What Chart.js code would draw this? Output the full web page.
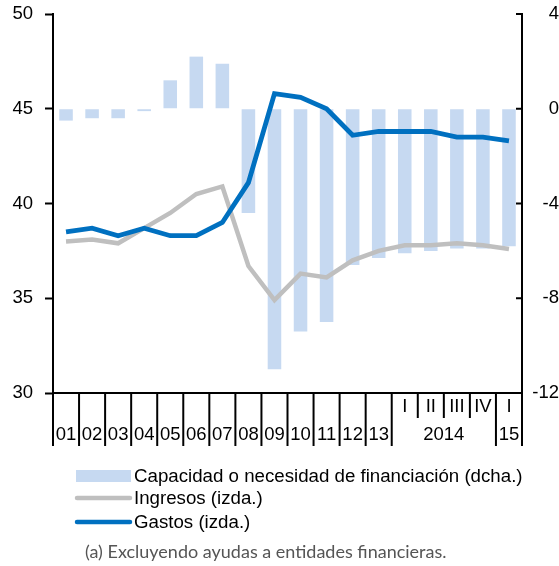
<!DOCTYPE html>
<html>
<head>
<meta charset="utf-8">
<script src="https://cdn.jsdelivr.net/npm/chart.js@4/dist/chart.umd.min.js"></script>
<style>
  body { margin: 0; background: #fff; }
  canvas { display: block; }
</style>
</head>
<body>
<canvas id="chart" width="559" height="566"></canvas>
<script>
const categories = ["01", "02", "03", "04", "05", "06", "07", "08", "09", "10", "11", "12", "13",
  "2014 I", "2014 II", "2014 III", "2014 IV", "2015 I"];
const yearLabels = ["01", "02", "03", "04", "05", "06", "07", "08", "09", "10", "11", "12", "13"];
const quarterLabels = ["I", "II", "III", "IV", "I"];
const groups = [
  { label: "2014", from: 13, to: 16 },
  { label: "15", from: 17, to: 17 },
];

const capacidad = [-0.5, -0.4, -0.4, -0.1, 1.2, 2.2, 1.9, -4.4, -11.0, -9.4, -9.0, -6.6, -6.3, -6.1, -6.0, -5.9, -5.9, -5.8];
const ingresos = [38.0, 38.1, 37.9, 38.7, 39.5, 40.5, 40.9, 36.7, 34.9, 36.3, 36.1, 37.0, 37.5, 37.8, 37.8, 37.9, 37.8, 37.6];
const gastos = [38.5, 38.7, 38.3, 38.7, 38.3, 38.3, 39.0, 41.1, 45.8, 45.6, 45.0, 43.6, 43.8, 43.8, 43.8, 43.5, 43.5, 43.3];

const leftTicks = [30, 35, 40, 45, 50];
const rightTicks = [-12, -8, -4, 0, 4];

const footnote = "(a) Excluyendo ayudas a entidades financieras.";

const FONT = "'Liberation Sans', Arial, sans-serif";
Chart.defaults.font.family = FONT;
Chart.defaults.font.size = 18.5;
Chart.defaults.color = "#000";

const ctx = document.getElementById("chart");

// x axis labels, tick lines, inner ticks of the right axis, legend and note
const decorations = {
  id: "decorations",
  afterDraw(chart) {
    const c = chart.ctx;
    const x = chart.scales.x;
    const y2 = chart.scales.y2;
    const area = chart.chartArea;
    const base = area.bottom;
    const half = (x.getPixelForValue(1) - x.getPixelForValue(0)) / 2;
    const nYears = yearLabels.length;

    c.save();
    c.strokeStyle = "#000";
    c.lineWidth = 2;

    // category boundaries
    for (let i = 0; i <= categories.length; i++) {
      const px = i < categories.length ? x.getPixelForValue(i) - half : x.getPixelForValue(i - 1) + half;
      const inGroup = groups.some(g => i > g.from && i <= g.to);
      c.beginPath();
      c.moveTo(px, base);
      c.lineTo(px, base + (inGroup ? 25 : 53));
      c.stroke();
    }

    // right axis ticks point inward
    rightTicks.forEach(v => {
      const py = y2.getPixelForValue(v);
      c.beginPath();
      c.moveTo(area.right - 6, py);
      c.lineTo(area.right, py);
      c.stroke();
    });

    c.fillStyle = "#000";
    c.font = "18.5px " + FONT;
    c.textAlign = "center";
    c.textBaseline = "middle";
    yearLabels.forEach((l, i) => c.fillText(l, x.getPixelForValue(i), base + 42));
    quarterLabels.forEach((l, i) => c.fillText(l, x.getPixelForValue(nYears + i), base + 14));
    groups.forEach(g => {
      const mid = (x.getPixelForValue(g.from) + x.getPixelForValue(g.to)) / 2;
      c.fillText(g.label, mid, base + 42);
    });

    // legend
    const rows = [476, 498, 522];
    c.textAlign = "left";
    c.font = "18.7px " + FONT;
    chart.data.datasets.forEach((ds, k) => {
      const ry = rows[k];
      if (ds.type === "bar") {
        c.fillStyle = ds.backgroundColor;
        c.fillRect(76, ry - 6, 55, 12);
      } else {
        c.strokeStyle = ds.borderColor;
        c.lineWidth = 4.5;
        c.lineCap = "round";
        c.beginPath();
        c.moveTo(77, ry);
        c.lineTo(130, ry);
        c.stroke();
      }
      c.fillStyle = "#000";
      c.fillText(ds.label, 134, ry + 1);
    });

    // note
    c.fillStyle = "#555";
    c.font = "18px Lato, 'Open Sans', sans-serif";
    c.fillText(footnote, 85, 552);
    c.restore();
  },
};

// keep the y scales from adding label room above the plot
const noPad = (scale, width) => {
  scale.width = width;
  scale.paddingTop = 0;
  scale.paddingBottom = 0;
};

new Chart(ctx, {
  data: {
    labels: categories,
    datasets: [
      {
        type: "bar",
        label: "Capacidad o necesidad de financiación (dcha.)",
        data: capacidad,
        yAxisID: "y2",
        backgroundColor: "#c6d9f1",
        barPercentage: 0.52,
        categoryPercentage: 1,
        order: 3,
      },
      {
        type: "line",
        label: "Ingresos (izda.)",
        data: ingresos,
        yAxisID: "y",
        borderColor: "#bfbfbf",
        borderWidth: 4.5,
        pointRadius: 0,
        tension: 0,
        order: 2,
      },
      {
        type: "line",
        label: "Gastos (izda.)",
        data: gastos,
        yAxisID: "y",
        borderColor: "#0070c0",
        borderWidth: 4.8,
        pointRadius: 0,
        tension: 0,
        order: 1,
      },
    ],
  },
  options: {
    responsive: false,
    animation: false,
    layout: { padding: { top: 14, left: 0, right: 0, bottom: 0 } },
    plugins: {
      legend: { display: false },
      tooltip: { enabled: false },
    },
    scales: {
      x: {
        grid: { display: false },
        ticks: { display: false },
        border: { display: true, color: "#000", width: 2 },
        afterFit: (scale) => { scale.height = 173; },
      },
      y: {
        position: "left",
        min: leftTicks[0],
        max: leftTicks[leftTicks.length - 1],
        ticks: { stepSize: 5, padding: 12, color: "#000" },
        grid: { drawOnChartArea: false, tickLength: 8, tickWidth: 2, tickColor: "#000" },
        border: { color: "#000", width: 2 },
        afterFit: (scale) => noPad(scale, 53),
      },
      y2: {
        position: "right",
        min: rightTicks[0],
        max: rightTicks[rightTicks.length - 1],
        ticks: { stepSize: 4, padding: 6, crossAlign: "far", color: "#000" },
        grid: { drawOnChartArea: false, drawTicks: false },
        border: { color: "#000", width: 2 },
        afterFit: (scale) => noPad(scale, 37),
      },
    },
  },
  plugins: [decorations],
});
</script>
</body>
</html>
